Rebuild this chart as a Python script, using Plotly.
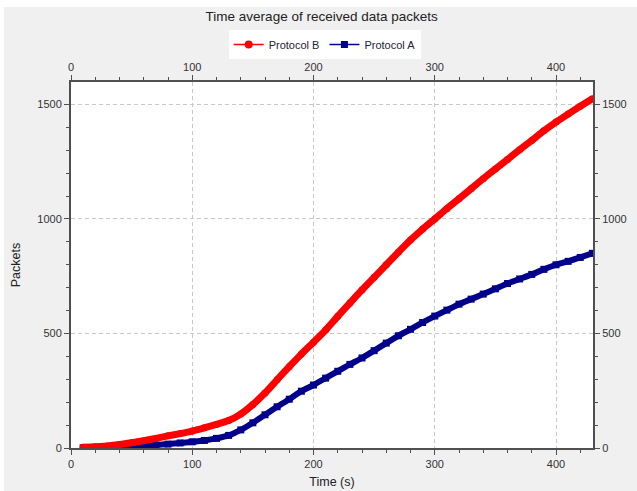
import plotly.graph_objects as go

time_s = [10, 20, 30, 40, 50, 60, 70, 80, 90, 100, 110, 120, 130, 140, 150, 160, 170, 180, 190, 200,
          210, 220, 230, 240, 250, 260, 270, 280, 290, 300, 310, 320, 330, 340, 350, 360, 370, 380,
          390, 400, 410, 420, 430]
protocol_b = [3, 5, 9, 15, 23, 32, 42, 53, 63, 74, 88, 103, 120, 148, 190, 240, 298, 355, 410, 462,
              515, 575, 633, 690, 745, 800, 855, 908, 956, 1000, 1045, 1088, 1132, 1176, 1218, 1260,
              1302, 1343, 1385, 1423, 1458, 1492, 1525]
protocol_a = [1, 2, 3, 5, 7, 10, 13, 17, 22, 27, 33, 42, 55, 79, 110, 145, 180, 213, 248, 275,
              305, 335, 365, 393, 425, 458, 490, 518, 548, 576, 602, 628, 650, 672, 695, 718,
              738, 758, 780, 800, 815, 832, 850]

x_range = [0, 430.5]
y_range = [0, 1598]
x_ticks = [0, 100, 200, 300, 400]
y_ticks = [0, 500, 1000, 1500]

RED = "#FF0000"
NAVY = "#00008B"

fig = go.Figure()
fig.add_trace(go.Scatter(x=time_s, y=protocol_b, name="Protocol B", mode="lines+markers",
                         line=dict(color=RED, width=7, shape="spline", smoothing=0.6),
                         marker=dict(symbol="circle", size=7, color=RED),
                         xaxis="x2", yaxis="y2", showlegend=False))
fig.add_trace(go.Scatter(x=time_s, y=protocol_a, name="Protocol A", mode="lines+markers",
                         line=dict(color=NAVY, width=6, shape="spline", smoothing=0.6),
                         marker=dict(symbol="square", size=7, color=NAVY),
                         showlegend=False))
# legend entries (thin line + marker, as in the reference legend)
fig.add_trace(go.Scatter(x=[None], y=[None], name="Protocol B", mode="lines+markers",
                         line=dict(color=RED, width=1.5),
                         marker=dict(symbol="circle", size=8, color=RED)))
fig.add_trace(go.Scatter(x=[None], y=[None], name="Protocol A", mode="lines+markers",
                         line=dict(color=NAVY, width=1.5),
                         marker=dict(symbol="square", size=7, color=NAVY)))

font_family = "Liberation Sans, Arial, sans-serif"
axis_common = dict(showline=True, linecolor="#505050", linewidth=2, ticks="outside",
                   ticklen=5, tickcolor="#505050", tickwidth=1,
                   tickfont=dict(size=11, color="#333333", family=font_family),
                   zeroline=False, automargin=False)

fig.update_layout(
    width=637, height=491,
    paper_bgcolor="#F0F0F0", plot_bgcolor="white",
    margin=dict(l=71, r=44, t=82, b=43, autoexpand=False),
    title=dict(text="Time average of received data packets", x=0.505, xanchor="center",
               y=1 - 16 / 491, yanchor="middle",
               font=dict(size=13.5, color="#222222", family=font_family)),
    font=dict(family=font_family),
    showlegend=True,
    legend=dict(orientation="h", x=0.486, xanchor="center", y=1.142, yanchor="top",
                bgcolor="white", font=dict(size=11, color="#222233", family=font_family),
                itemwidth=30, tracegroupgap=0),
    xaxis=dict(range=x_range, tickvals=x_ticks, showgrid=True, gridcolor="#C8C8C8",
               griddash="4px,3px", gridwidth=1,
               minor=dict(dtick=20, tick0=0, ticks="outside", ticklen=3, tickcolor="#505050",
                          showgrid=False),
               title=dict(text="Time (s)", font=dict(size=12.5, color="#222222"), standoff=8),
               **axis_common),
    yaxis=dict(range=y_range, tickvals=y_ticks, showgrid=True, gridcolor="#C8C8C8",
               griddash="4px,3px", gridwidth=1,
               minor=dict(dtick=100, tick0=0, ticks="outside", ticklen=3, tickcolor="#505050",
                          showgrid=False),
               title=dict(text="Packets", font=dict(size=12.5, color="#222222"), standoff=14),
               **axis_common),
    xaxis2=dict(range=x_range, tickvals=x_ticks, overlaying="x", side="top", anchor="y2",
                showgrid=False,
                minor=dict(dtick=20, tick0=0, ticks="outside", ticklen=3, tickcolor="#505050"),
                **axis_common),
    yaxis2=dict(range=y_range, tickvals=y_ticks, overlaying="y", side="right", anchor="x2",
                showgrid=False,
                minor=dict(dtick=100, tick0=0, ticks="outside", ticklen=3, tickcolor="#505050"),
                **axis_common),
    shapes=[
        dict(type="rect", xref="paper", yref="paper", x0=-71 / 522, x1=(637 - 71) / 522 + 0.01,
             y0=(448 - 7) / 366, y1=(448 + 5) / 366, fillcolor="white", line=dict(width=0),
             layer="above"),
        dict(type="rect", xref="paper", yref="paper", x0=-71 / 522 - 0.01, x1=-67 / 522,
             y0=-50 / 366, y1=(448 + 5) / 366, fillcolor="white", line=dict(width=0),
             layer="above"),
    ],
)

fig.write_html("out.html", config={"displayModeBar": False},
               post_script="document.body.style.margin='0';document.body.style.overflow='hidden';")
